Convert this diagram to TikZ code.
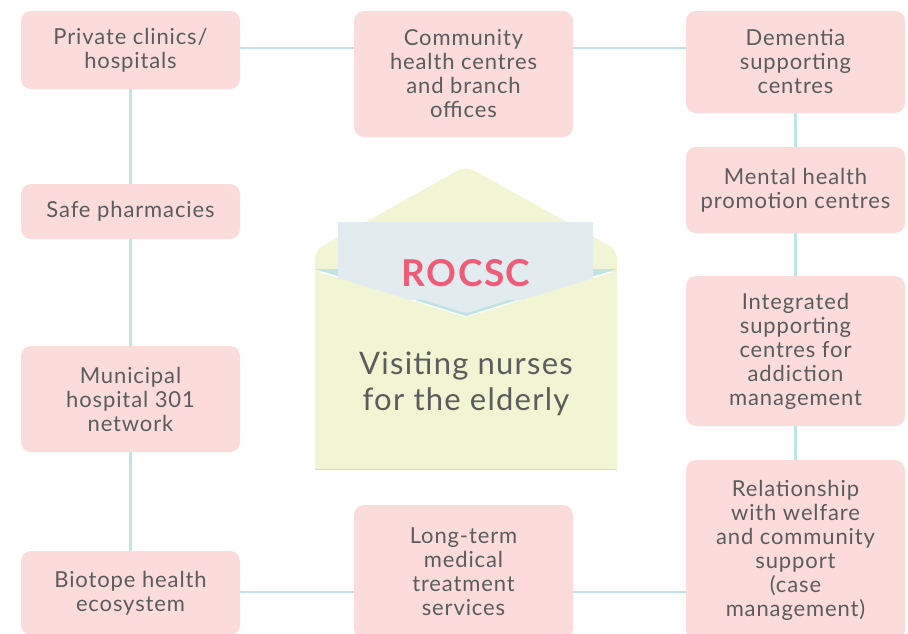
\documentclass[tikz,border=0pt]{standalone}
\usepackage{fontspec}
\setmainfont{Lato}[LetterSpace=4]
\usepackage{tikz}
\usetikzlibrary{backgrounds}

\definecolor{boxpink}{HTML}{FBDCDB}
\definecolor{linkteal}{HTML}{BEE5E2}
\definecolor{txtgrey}{HTML}{5C5C5C}
\definecolor{envyellow}{HTML}{F1F5D3}
\definecolor{paperblue}{HTML}{E2EBF0}
\definecolor{rocscred}{HTML}{EE5C78}

\tikzset{
  partner/.style={fill=boxpink, rounded corners=10pt, minimum width=219pt,
    align=center, text=txtgrey, inner sep=0pt,
    font=\fontsize{22}{24}\selectfont},
  link/.style={draw=linkteal, line width=2.2pt}
}

\begin{document}
\begin{tikzpicture}[x=1pt, y=-1pt]
\clip (0,0) rectangle (908,633);
% left column
\node[partner, minimum height=78pt] (pch) at (130.5,50) {Private clinics/\\hospitals};
\node[partner, minimum height=55pt] (sp) at (130.5,211.5) {Safe pharmacies};
\node[partner, minimum height=106pt] (mh) at (130.5,399) {Municipal\\hospital 301\\network};
\node[partner, minimum height=84pt] (bio) at (130.5,593) {Biotope health\\ecosystem};
% middle column
\node[partner, minimum height=126pt] (chc) at (463.5,74) {Community\\health centres\\and branch\\offices};
\node[partner, minimum height=134pt] (ltc) at (463.5,572) {Long-term\\medical\\treatment\\services};
% right column
\node[partner, minimum height=102pt] (dem) at (795.5,62) {Dementia\\supporting\\centres};
\node[partner, minimum height=86pt] (mhp) at (795.5,190) {Mental health\\promotion centres};
\node[partner, minimum height=150pt] (isc) at (795.5,351) {Integrated\\supporting\\centres for\\addiction\\management};
\node[partner, minimum height=180pt] (rel) at (795.5,550) {Relationship\\with welfare\\and community\\support\\(case\\management)};

% connectors
\begin{scope}[on background layer]
\draw[link] (pch.center) ++(0,-2) -- (pch.center |- 0,48) -| (dem.center);
\draw[link] (pch) -- (sp);
\draw[link] (sp) -- (mh);
\draw[link] (mh) -- (bio);
\draw[link] (bio.center) ++(0,-1) -- ++(664,0);
\draw[link] (dem) -- (mhp);
\draw[link] (mhp) -- (isc);
\draw[link] (isc) -- (rel);
\end{scope}

% envelope
\fill[envyellow, rounded corners=9pt] (315,272) -- (315,250) -- (466,166) -- (617,250) [sharp corners] -- (617,272) -- cycle;
\fill[linkteal] (315,269) -- (617,269) -- (466,316) -- cycle;
\fill[paperblue] (338,222) rectangle (593,300);
\fill[envyellow] (315,271) -- (462,316) .. controls (465,317) and (467,317) .. (470,316) -- (617,271) -- (617,470) -- (315,470) -- cycle;
\fill[paperblue] (338,222) -- (593,222) -- (593,273) -- (470,312) .. controls (467,313) and (465,313) .. (462,312) -- (338,273) -- cycle;
\draw[linkteal, line width=1pt] (315,469.5) -- (617,469.5);
\node[text=rocscred, font=\fontsize{37}{40}\selectfont\bfseries] (rocsc) at (466,273) {ROCSC};
\node[text=txtgrey, align=center, font=\fontsize{31}{36}\selectfont] (vne) at (466,384) {Visiting nurses\\for the elderly};
\end{tikzpicture}
\end{document}
